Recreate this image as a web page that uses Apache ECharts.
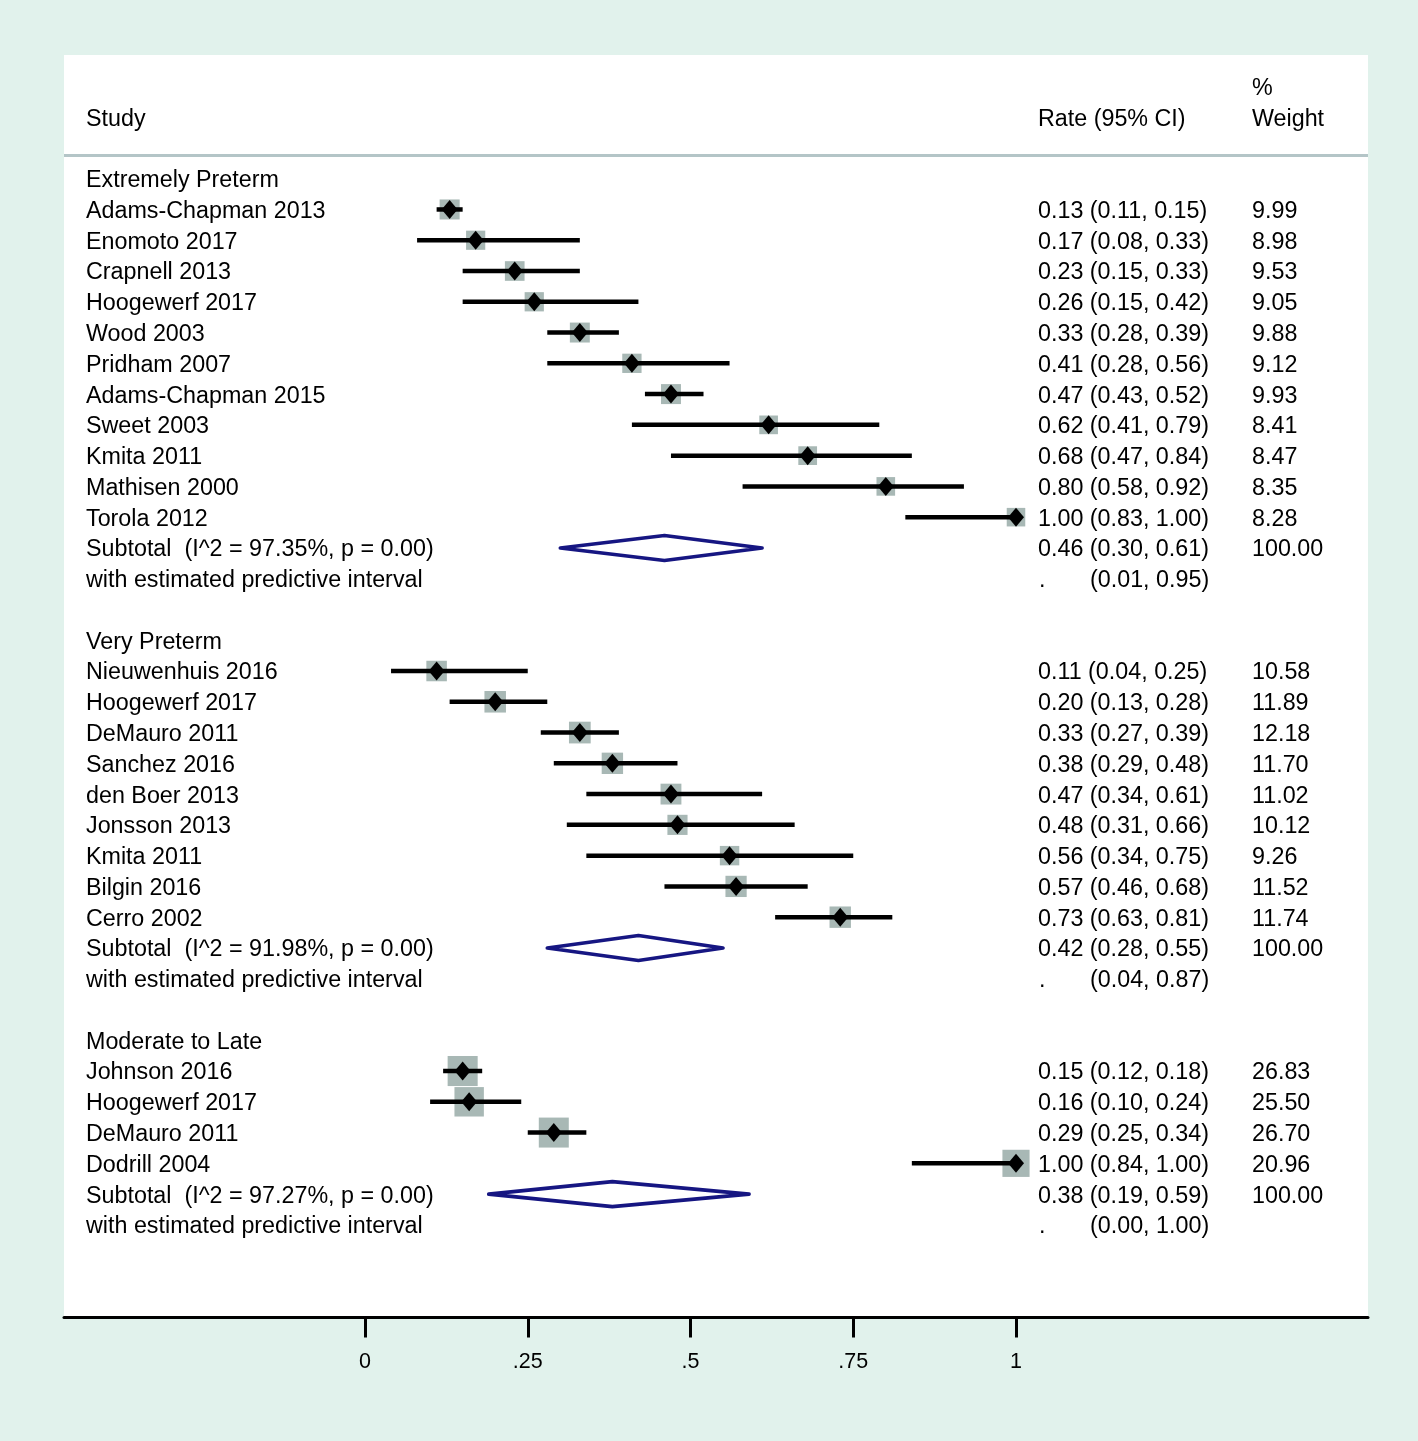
<!DOCTYPE html>
<html><head><meta charset="utf-8">
<script src="https://cdn.jsdelivr.net/npm/echarts@6/dist/echarts.min.js"></script>
<style>html,body{margin:0;padding:0;background:#e1f2ec;} #c{width:1418px;height:1441px;}</style>
</head><body><div id="c"></div>
<script>
// ---------- data ----------
const groupNames = ['Extremely Preterm', 'Very Preterm', 'Moderate to Late'];

const epStudies = ['Adams-Chapman 2013','Enomoto 2017','Crapnell 2013','Hoogewerf 2017','Wood 2003','Pridham 2007','Adams-Chapman 2015','Sweet 2003','Kmita 2011','Mathisen 2000','Torola 2012'];
const epRate   = [0.13,0.17,0.23,0.26,0.33,0.41,0.47,0.62,0.68,0.80,1.00];
const epLo     = [0.11,0.08,0.15,0.15,0.28,0.28,0.43,0.41,0.47,0.58,0.83];
const epHi     = [0.15,0.33,0.33,0.42,0.39,0.56,0.52,0.79,0.84,0.92,1.00];
const epWeight = [9.99,8.98,9.53,9.05,9.88,9.12,9.93,8.41,8.47,8.35,8.28];

const vpStudies = ['Nieuwenhuis 2016','Hoogewerf 2017','DeMauro 2011','Sanchez 2016','den Boer 2013','Jonsson 2013','Kmita 2011','Bilgin 2016','Cerro 2002'];
const vpRate   = [0.11,0.20,0.33,0.38,0.47,0.48,0.56,0.57,0.73];
const vpLo     = [0.04,0.13,0.27,0.29,0.34,0.31,0.34,0.46,0.63];
const vpHi     = [0.25,0.28,0.39,0.48,0.61,0.66,0.75,0.68,0.81];
const vpWeight = [10.58,11.89,12.18,11.70,11.02,10.12,9.26,11.52,11.74];

const mlStudies = ['Johnson 2016','Hoogewerf 2017','DeMauro 2011','Dodrill 2004'];
const mlRate   = [0.15,0.16,0.29,1.00];
const mlLo     = [0.12,0.10,0.25,0.84];
const mlHi     = [0.18,0.24,0.34,1.00];
const mlWeight = [26.83,25.50,26.70,20.96];

const subRate = [0.46,0.42,0.38];
const subLo   = [0.30,0.28,0.19];
const subHi   = [0.61,0.55,0.59];
const subI2   = [97.35,91.98,97.27];
const subP    = [0.00,0.00,0.00];
const predLo  = [0.01,0.04,0.00];
const predHi  = [0.95,0.87,1.00];

const xTicks = [0, 0.25, 0.5, 0.75, 1];

// ---------- build rows ----------
const groups = [
  {s: epStudies, r: epRate, lo: epLo, hi: epHi, w: epWeight},
  {s: vpStudies, r: vpRate, lo: vpLo, hi: vpHi, w: vpWeight},
  {s: mlStudies, r: mlRate, lo: mlLo, hi: mlHi, w: mlWeight}
];
const f2 = v => v.toFixed(2);
const textRows = [
  {row: -3, weight: '%'},
  {row: -2, name: 'Study', rate: 'Rate (95% CI)', weight: 'Weight'}
];
const studyData = [];
const subData = [];
let row = 0;
groups.forEach((g, gi) => {
  textRows.push({row, name: groupNames[gi]});
  row++;
  g.s.forEach((nm, i) => {
    studyData.push([g.r[i], row, g.lo[i], g.hi[i], g.w[i]]);
    textRows.push({row, name: nm, rate: `${f2(g.r[i])} (${f2(g.lo[i])}, ${f2(g.hi[i])})`, weight: f2(g.w[i])});
    row++;
  });
  subData.push([subRate[gi], row, subLo[gi], subHi[gi]]);
  textRows.push({row, name: `Subtotal  (I^2 = ${f2(subI2[gi])}%, p = ${f2(subP[gi])})`,
    rate: `${f2(subRate[gi])} (${f2(subLo[gi])}, ${f2(subHi[gi])})`, weight: '100.00'});
  row++;
  textRows.push({row, name: 'with estimated predictive interval', dot: '.', interval: `(${f2(predLo[gi])}, ${f2(predHi[gi])})`});
  row += 2;
});

// ---------- layout ----------
const FONT = '"Liberation Sans", Arial, Helvetica, sans-serif';
const FS = 23.3;
const nameX = 86, rateX = 1038, intervalX = 1090, weightX = 1252;
const textDy = 2;
const rowTop = -4.02, rowBottom = 37.01;

const chart = echarts.init(document.getElementById('c'), null, {renderer: 'canvas'});

function txt(str, x, y) {
  return {type: 'text', style: {text: str, x, y: y + textDy, fill: '#000', fontSize: FS, fontFamily: FONT, align: 'left', verticalAlign: 'middle'}};
}

chart.setOption({
  animation: false,
  backgroundColor: '#e1f2ec',
  grid: {left: 64, right: 50, top: 55, bottom: 123.5, show: true, backgroundColor: '#ffffff', borderWidth: 0},
  xAxis: {
    type: 'value', min: -301/651, max: 1003/651, position: 'bottom',
    axisLine: {show: true, onZero: false, lineStyle: {color: '#000', width: 3}},
    axisTick: {show: true, customValues: xTicks, length: 20, lineStyle: {color: '#000', width: 3}},
    axisLabel: {customValues: xTicks, color: '#000', fontSize: 21.5, fontFamily: FONT, margin: 34,
      formatter: v => (v === 0 ? '0' : v === 1 ? '1' : String(v).replace(/^0\./, '.'))},
    splitLine: {show: false}
  },
  yAxis: {type: 'value', inverse: true, min: rowTop, max: rowBottom, show: false, splitLine: {show: false}},
  graphic: [{type: 'rect', shape: {x: 64, y: 154, width: 1304, height: 3}, style: {fill: '#b4c5c7'}, z: 10}],
  series: [
    {
      type: 'custom', name: 'studies', data: studyData, encode: {x: 0, y: 1}, clip: false, z: 3,
      renderItem: (params, api) => {
        const r = api.value(1);
        const c = api.coord([api.value(0), r]);
        const lo = api.coord([api.value(2), r]);
        const hi = api.coord([api.value(3), r]);
        const side = 7.8 * Math.pow(api.value(4), 0.41);
        return {type: 'group', children: [
          {type: 'rect', shape: {x: c[0] - side / 2, y: c[1] - side / 2, width: side, height: side}, style: {fill: '#a8b8b5'}},
          {type: 'line', shape: {x1: lo[0], y1: c[1], x2: hi[0], y2: c[1]}, style: {stroke: '#000', lineWidth: 4.5}},
          {type: 'polygon', shape: {points: [[c[0] - 8, c[1]], [c[0], c[1] - 9.5], [c[0] + 8, c[1]], [c[0], c[1] + 9.5]]}, style: {fill: '#000'}}
        ]};
      }
    },
    {
      type: 'custom', name: 'subtotals', data: subData, encode: {x: 0, y: 1}, clip: false, z: 3,
      renderItem: (params, api) => {
        const r = api.value(1);
        const c = api.coord([api.value(0), r]);
        const lo = api.coord([api.value(2), r]);
        const hi = api.coord([api.value(3), r]);
        return {type: 'polygon', shape: {points: [[lo[0], c[1]], [c[0], c[1] - 12.5], [hi[0], c[1]], [c[0], c[1] + 12.5]]},
          style: {fill: 'rgba(0,0,0,0)', stroke: '#161682', lineWidth: 3.6, lineJoin: 'round'}};
      }
    },
    {
      type: 'custom', name: 'texts', data: textRows.map(t => [0, t.row]), encode: {x: 0, y: 1}, clip: false, z: 4,
      renderItem: (params, api) => {
        const t = textRows[params.dataIndex];
        const y = api.coord([0, t.row])[1];
        const ch = [];
        if (t.name) ch.push(txt(t.name, nameX, y));
        if (t.rate) ch.push(txt(t.rate, rateX, y));
        if (t.dot) ch.push(txt(t.dot, rateX + 1, y));
        if (t.interval) ch.push(txt(t.interval, intervalX, y));
        if (t.weight) ch.push(txt(t.weight, weightX, y));
        return {type: 'group', children: ch};
      }
    }
  ]
});
</script>
</body></html>
